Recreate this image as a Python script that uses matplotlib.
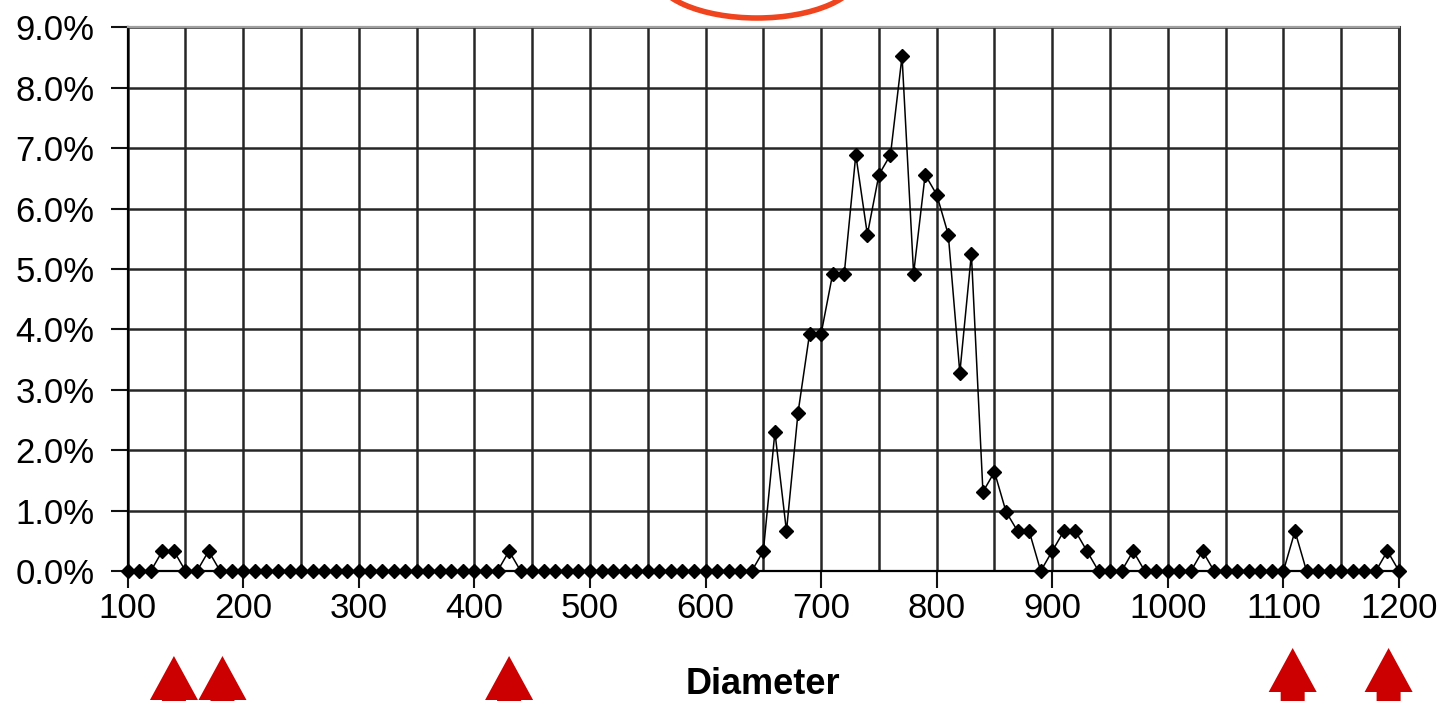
import numpy as np
import matplotlib.pyplot as plt
from matplotlib.patches import Polygon, Ellipse
from matplotlib.ticker import MultipleLocator, FuncFormatter

plt.rcParams['font.family'] = ['Liberation Sans', 'DejaVu Sans']

# diameter classes, 100 .. 1200 step 10
diameter = list(range(100, 1210, 10))

# share of particles per class (%)
share = [
    0, 0, 0, 0.33, 0.33, 0, 0, 0.33, 0, 0,          # 100-190
    0, 0, 0, 0, 0, 0, 0, 0, 0, 0,                   # 200-290
    0, 0, 0, 0, 0, 0, 0, 0, 0, 0,                   # 300-390
    0, 0, 0, 0.33, 0, 0, 0, 0, 0, 0,                # 400-490
    0, 0, 0, 0, 0, 0, 0, 0, 0, 0,                   # 500-590
    0, 0, 0, 0, 0, 0.33, 2.30, 0.66, 2.62, 3.93,    # 600-690
    3.93, 4.92, 4.92, 6.89, 5.57, 6.56, 6.89, 8.52, 4.92, 6.56,  # 700-790
    6.23, 5.57, 3.28, 5.25, 1.31, 1.64, 0.98, 0.66, 0.66, 0,     # 800-890
    0.33, 0.66, 0.66, 0.33, 0, 0, 0, 0.33, 0, 0,    # 900-990
    0, 0, 0, 0.33, 0, 0, 0, 0, 0, 0,                # 1000-1090
    0, 0.66, 0, 0, 0, 0, 0, 0, 0, 0.33,             # 1100-1190
    0,                                              # 1200
]

# outliers flagged with red arrows under the axis
flagged = [140, 182, 430, 1108, 1191]
flag_tip = [656, 656, 656, 648, 648]

W, H = 1445, 701
fig = plt.figure(figsize=(W / 100, H / 100), dpi=100)
ax = fig.add_axes([127.7 / W, 130 / H, (1399 - 127.7) / W, (571 - 27.3) / H])

ax.plot(diameter, share, color='black', lw=1.1, marker='D', ms=6.8,
        mfc='black', mec='black', zorder=3, clip_on=False)

ax.set_xlim(100, 1200)
ax.set_ylim(0, 9)
ax.xaxis.set_major_locator(MultipleLocator(100))
ax.xaxis.set_minor_locator(MultipleLocator(50))
ax.yaxis.set_major_locator(MultipleLocator(1))
ax.yaxis.set_major_formatter(FuncFormatter(lambda v, p: '%.1f%%' % v))

ax.grid(which='both', color='#262626', lw=1.8)
ax.set_axisbelow(True)
ax.tick_params(axis='both', which='major', length=12, width=1.5,
               color='#111111', labelsize=25)
ax.tick_params(axis='x', which='minor', length=0)
ax.tick_params(axis='x', pad=3)
ax.tick_params(axis='y', pad=12)

ax.spines['left'].set_color('black')
ax.spines['left'].set_linewidth(1.6)
ax.spines['bottom'].set_color('black')
ax.spines['bottom'].set_linewidth(1.6)
ax.spines['top'].set_color('#a0a0a0')
ax.spines['top'].set_linewidth(1.6)
ax.spines['right'].set_color('#333333')
ax.spines['right'].set_linewidth(2.2)

ax.set_xlabel('Diameter', fontsize=26, fontweight='bold', labelpad=30)

# overlay in pixel coordinates for the red annotations
over = fig.add_axes([0, 0, 1, 1], facecolor='none')
over.set_xlim(0, W)
over.set_ylim(H, 0)
over.axis('off')

for x, tip in zip(flagged, flag_tip):
    px = ax.transData.transform((x, 0))[0]
    pts = [(px, tip), (px + 24, tip + 44), (px + 12, tip + 44), (px + 12, H + 5),
           (px - 12, H + 5), (px - 12, tip + 44), (px - 24, tip + 44)]
    over.add_patch(Polygon(pts, closed=True, color='#cc0000', lw=0))

over.add_patch(Ellipse((757, -27), 205, 90, fill=False, ec='#f0441e', lw=4))

fig.savefig('out.png', dpi=100)
